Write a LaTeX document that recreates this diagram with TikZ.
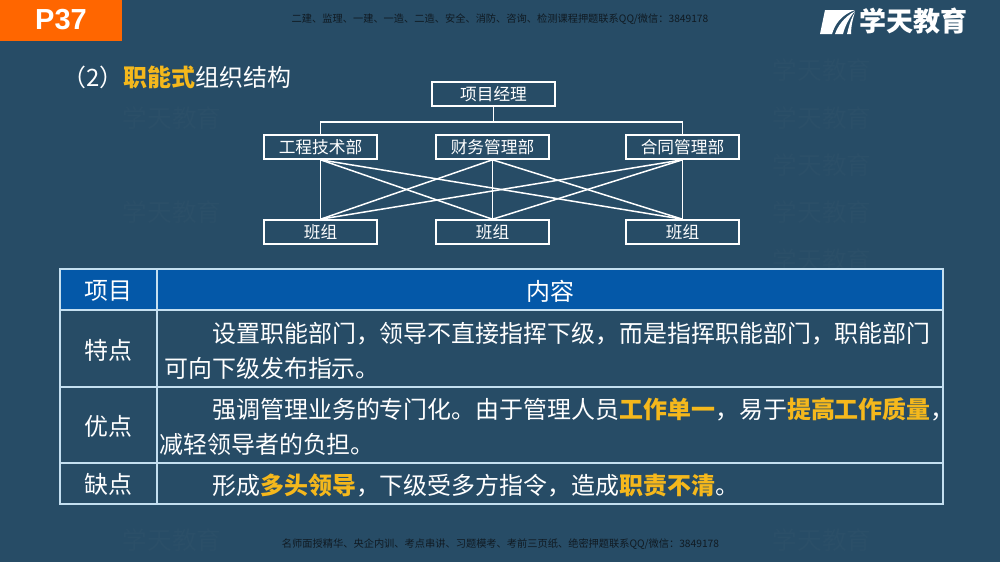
\documentclass[tikz,border=0pt]{standalone}
\usepackage{fontspec}
\setmainfont{Noto Sans CJK SC}
\newfontfamily\latinfont{Liberation Sans}
\definecolor{slidebg}{HTML}{274C66}
\definecolor{tagorange}{HTML}{FF6600}
\definecolor{headblue}{HTML}{0458A8}
\definecolor{hiyellow}{HTML}{F5B81C}
\definecolor{gridline}{HTML}{C4DFF0}
\definecolor{wmark}{HTML}{2B4F68}
\definecolor{notedark}{HTML}{101A22}
\tikzstyle{box}=[draw=white, line width=0.9pt, text=white, minimum width=2.26cm, minimum height=0.48cm, inner sep=0pt, font=\fontsize{9.5}{11}\selectfont]
\tikzstyle{wire}=[draw=white, line width=0.85pt]
\tikzstyle{cell}=[text=white, inner sep=0pt, font=\fontsize{13.63}{16}\selectfont]
\tikzstyle{line}=[cell, anchor=west]
\tikzstyle{note}=[text=notedark, inner sep=0pt, font=\fontsize{5.82}{7}\selectfont]
\tikzstyle{water}=[text=wmark, inner sep=0pt, font=\fontsize{14}{16}\selectfont]
\newcommand{\hi}[1]{\textcolor{hiyellow}{\bfseries #1}}
\begin{document}
\begin{tikzpicture}[x=0.02cm, y=-0.02cm]
	\useasboundingbox (0,0) rectangle (1000,562);
	\fill[slidebg] (0,0) rectangle (1000,562);

	% Watermarks
	\foreach \ypos in {118,212,540}
	\node[water] (wl\ypos) at (172,\ypos) {学天教育};
	\foreach \ypos in {70,118,165,212,260,540}
	\node[water] (wr\ypos) at (822,\ypos) {学天教育};

	% Tag and title
	\fill[tagorange] (0,0) rectangle (122,41);
	\node[text=white, font=\latinfont\bfseries\fontsize{16.5}{18}\selectfont] (tag) at (61,20) {P37};
	\node[line] (title) at (62,77) {（2）\hi{职能式}组织结构};
	\node[note] (topnote) at (500,19) {二建、监理、一建、一造、二造、安全、消防、咨询、检测课程押题联系QQ/微信：3849178};
	\node[note] (botnote) at (500.5,544) {名师面授精华、央企内训、考点串讲、习题模考、考前三页纸、绝密押题联系QQ/微信：3849178};

	% Logo
	\fill[white] (825,10) -- (855,10) .. controls (841,15) and (835,24) .. (832,34) -- (820,34) -- cycle;
	\fill[white] (855,11) .. controls (843,18) and (838,26) .. (835,34) -- (843,34) .. controls (845,26) and (849,18) .. cycle;
	\fill[white] (855,12) .. controls (851,18) and (849,26) .. (847,34) -- (851,34) .. controls (851,26) and (853,18) .. cycle;
	\node[text=white, inner sep=0pt, font=\bfseries\fontsize{15.4}{18}\selectfont] (logo) at (913.5,21) {学天教育};

	% Top of the chart
	\node[box, minimum width=2.46cm] (boss) at (493.5,94) {项目经理};
	\foreach \xpos/\lab/\la in {320.5/工程技术部/d1, 492.5/财务管理部/d2, 682.5/合同管理部/d3}
	\node[box] (\la) at (\xpos,147) {\lab};
	\foreach \xpos/\la in {320.5/t1, 492.5/t2, 682.5/t3}
	\node[box] (\la) at (\xpos,232) {班组};
	\node[coordinate] (bus) at (493.5,122) {};

	\draw[wire] (boss) -- (bus);
	\draw[wire] (d1.north) |- (bus);
	\draw[wire] (d3.north) |- (bus);
	\foreach \from in {d1,d2,d3}
	\foreach \to in {t1,t2,t3}
	\draw[wire] (\from.south) -- (\to.north);

	% Table
	\fill[headblue] (60,269) rectangle (943,310);
	\draw[gridline, line width=0.6pt] (60,269) rectangle (943,504);
	\foreach \ypos in {310,387,463}
	\draw[gridline, line width=0.6pt] (60,\ypos) -- (943,\ypos);
	\draw[gridline, line width=0.6pt] (157,269) -- (157,504);

	\foreach \ypos/\lab/\la in {291/项目/h1, 350/特点/h2, 426/优点/h3, 484.5/缺点/h4}
	\node[cell] (\la) at (108.5,\ypos) {\lab};
	\node[cell] (h5) at (550,291) {内容};

	\node[line] (a1) at (212,334) {设置职能部门，领导不直接指挥下级，而是指挥职能部门，职能部门};
	\node[line] (a2) at (164,368) {可向下级发布指示。};
	\node[line] (b1) at (212,409) {强调管理业务的专门化。由于管理人员\hi{工作单一}，易于\hi{提高工作质量}，};
	\node[line] (b2) at (159,444) {减轻领导者的负担。};
	\node[line] (c1) at (212,485) {形成\hi{多头领导}，下级受多方指令，造成\hi{职责不清}。};
\end{tikzpicture}
\end{document}
